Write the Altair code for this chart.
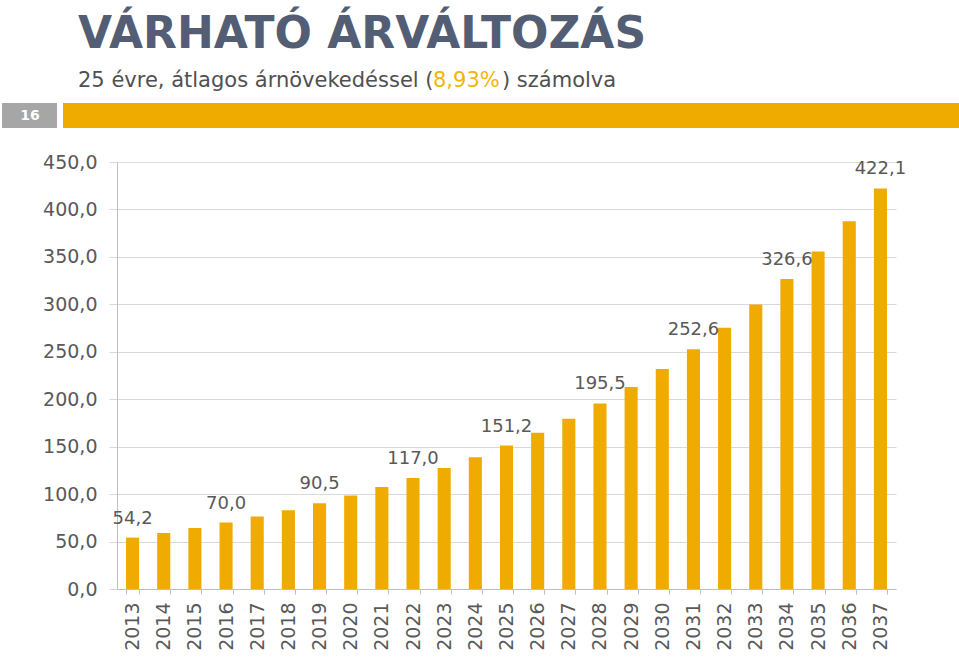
import altair as alt
import pandas as pd

years = [str(y) for y in range(2013, 2038)]
values = [54.2, 59.0, 64.3, 70.0, 76.3, 83.1, 90.5, 98.6, 107.4, 117.0, 127.4, 138.8,
          151.2, 164.7, 179.4, 195.5, 212.9, 231.9, 252.6, 275.2, 299.8, 326.6, 355.7,
          387.5, 422.1]
labeled_years = ["2013", "2016", "2019", "2022", "2025", "2028", "2031", "2034", "2037"]

title_text = "VÁRHATÓ ÁRVÁLTOZÁS"
sub_1 = "25 évre, átlagos árnövekedéssel ("
sub_2 = "8,93%"
sub_3 = ") számolva"
page_no = "16"

df = pd.DataFrame({"year": years, "value": values})
df["label"] = [f"{v:.1f}".replace(".", ",") if y in labeled_years else "" for y, v in zip(years, values)]

FONT = "DejaVu Sans"
BAR = "#F0AB00"
GRAY_TXT = "#595959"

x_enc = alt.X("year:N", sort=years, title=None,
              scale=alt.Scale(paddingInner=0.58),
              axis=alt.Axis(labelAngle=270, labelFontSize=19, labelFont=FONT,
                            labelColor=GRAY_TXT, tickBand="extent", tickSize=5,
                            tickColor="#bfbfbf", domainColor="#bfbfbf",
                            labelPadding=8, grid=False))
y_enc = alt.Y("value:Q", title=None,
              scale=alt.Scale(domain=[0, 450], nice=False),
              axis=alt.Axis(values=list(range(0, 451, 50)), tickSize=8,
                            tickColor="#d9d9d9", gridColor="#d9d9d9", domainColor="#bfbfbf",
                            labelFontSize=19, labelFont=FONT, labelColor=GRAY_TXT,
                            labelPadding=12,
                            labelExpr="replace(format(datum.value, '.1f'), '.', ',')"))

base = alt.Chart(df)
bars = base.mark_bar(color=BAR).encode(x=x_enc, y=y_enc)
labels = base.mark_text(font=FONT, fontSize=18, color=GRAY_TXT, baseline="middle", dy=-19).encode(
    x=alt.X("year:N", sort=years), y="value:Q", text="label:N")

one = pd.DataFrame({"a": [0]})
hdr = alt.Chart(one)
title = hdr.mark_text(text=title_text, font=FONT, fontWeight="bold", fontSize=44,
                      color="#535D73", align="left", baseline="alphabetic").encode(
    x=alt.value(-39), y=alt.value(-114))
s1 = hdr.mark_text(text=sub_1, font=FONT, fontSize=21, color="#505050",
                   align="left", baseline="alphabetic").encode(x=alt.value(-39), y=alt.value(-75))
s2 = hdr.mark_text(text=sub_2, font=FONT, fontSize=21, color="#F2B705",
                   align="left", baseline="alphabetic").encode(x=alt.value(316), y=alt.value(-75))
s3 = hdr.mark_text(text=sub_3, font=FONT, fontSize=21, color="#505050",
                   align="left", baseline="alphabetic").encode(x=alt.value(385), y=alt.value(-75))
gbox = hdr.mark_rect(color="#A6A6A6").encode(
    x=alt.value(-115), x2=alt.value(-60), y=alt.value(-59), y2=alt.value(-34))
obar = hdr.mark_rect(color=BAR).encode(
    x=alt.value(-54), x2=alt.value(842), y=alt.value(-59), y2=alt.value(-34))
pno = hdr.mark_text(text=page_no, font=FONT, fontWeight="bold", fontSize=14, color="white",
                    align="center", baseline="middle").encode(x=alt.value(-87), y=alt.value(-46))

chart = alt.layer(bars, labels, gbox, obar, pno, title, s1, s2, s3).properties(
    width=779, height=427,
    autosize=alt.AutoSizeParams(type="none"),
    padding={"left": 117, "top": 162, "right": 63, "bottom": 68},
    background="white",
).configure_view(stroke=None)

chart.save("out.html", embed_options={"renderer": "svg", "actions": False})
